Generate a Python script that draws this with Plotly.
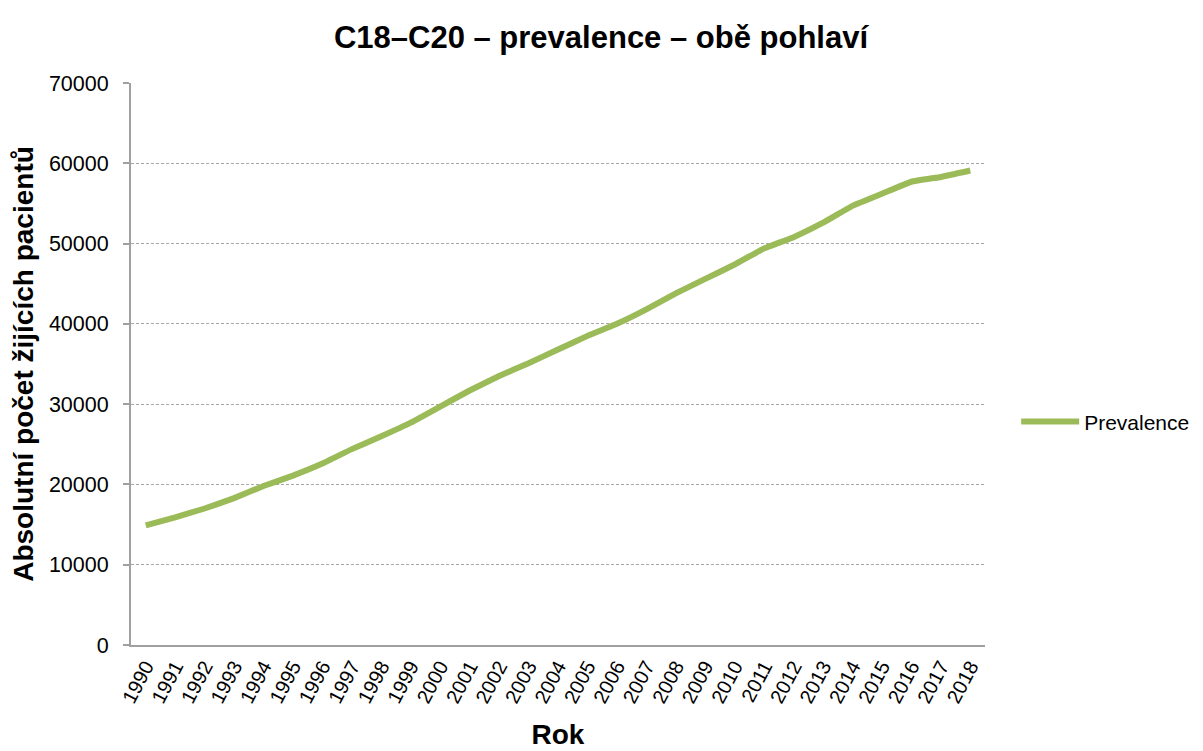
import plotly.graph_objects as go

years = [str(y) for y in range(1990, 2019)]
prevalence = [14900, 15900, 17000, 18300, 19800, 21100, 22600, 24400, 26000, 27700,
              29700, 31700, 33500, 35100, 36800, 38500, 40000, 41800, 43800, 45600,
              47400, 49400, 50800, 52600, 54700, 56200, 57700, 58300, 59100]
y_ticks = [0, 10000, 20000, 30000, 40000, 50000, 60000, 70000]

FONT = "Liberation Sans, Arial, sans-serif"
W, H = 1203, 743

fig = go.Figure()
fig.add_trace(go.Scatter(
    x=years, y=prevalence, mode="lines", name="Prevalence",
    line=dict(color="#9BBB59", width=6, shape="spline", smoothing=0.3),
))

fig.update_layout(
    width=W, height=H,
    margin=dict(l=123, r=226, t=75, b=106, autoexpand=False),
    paper_bgcolor="white", plot_bgcolor="white",
    font=dict(family=FONT, color="black"),
    title=dict(text="<b>C18–C20 – prevalence – obě pohlaví</b>",
               x=593 / W, xanchor="center", y=1 - 29 / H, yanchor="middle",
               font=dict(size=31, family=FONT, color="black")),
    showlegend=True,
    legend=dict(x=1.0365, y=0.397, xanchor="left", yanchor="middle",
                itemwidth=58,
                font=dict(size=21, family=FONT, color="black"),
                bgcolor="rgba(0,0,0,0)"),
)

fig.update_xaxes(
    type="category", tickangle=-62,
    tickfont=dict(size=20, family=FONT, color="black"),
    showline=True, linecolor="#a0a0a0", linewidth=2,
    showgrid=False, ticks="", range=[-0.5, len(years) - 0.5],
    title=dict(text="<b>Rok</b>", font=dict(size=28, family=FONT, color="black"), standoff=19),
)
fig.update_yaxes(
    range=[0, 70000], tickvals=y_ticks, ticktext=[str(v) for v in y_ticks],
    tickfont=dict(size=21.5, family=FONT, color="black"),
    showline=True, linecolor="#a0a0a0", linewidth=2,
    showgrid=True, gridcolor="#a6a6a6", gridwidth=1, griddash="3px,2px",
    zeroline=False, ticks="outside", ticklen=6, tickcolor="#a0a0a0", tickwidth=1.5,
    ticklabelstandoff=10,
    title=dict(text="<b>Absolutní počet žijících pacientů</b>",
               font=dict(size=28, family=FONT, color="black"), standoff=7),
)

fig.write_html("out.html")
